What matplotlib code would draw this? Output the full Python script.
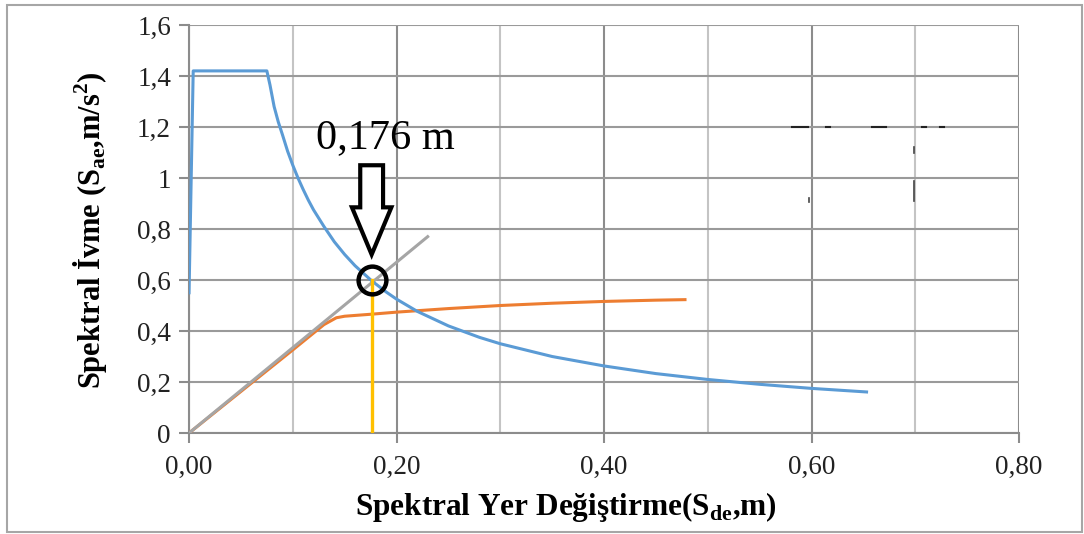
import matplotlib
matplotlib.use("Agg")
import matplotlib.pyplot as plt
from matplotlib.patches import Polygon, Rectangle
from matplotlib.ticker import MultipleLocator, FuncFormatter

plt.rcParams["font.family"] = ["Liberation Serif", "DejaVu Serif"]
plt.rcParams["mathtext.fontset"] = "custom"
plt.rcParams["mathtext.rm"] = "Liberation Serif"
plt.rcParams["mathtext.bf"] = "Liberation Serif:bold"

# demand spectrum (blue)
demand_sd = [0.0, 0.004, 0.075, 0.078, 0.082, 0.086, 0.09, 0.095, 0.10, 0.105,
             0.11, 0.115, 0.12, 0.13, 0.14, 0.15, 0.16, 0.176, 0.19, 0.20,
             0.22, 0.25, 0.28, 0.30, 0.35, 0.40, 0.45, 0.50, 0.55, 0.60, 0.653]
demand_sa = [0.55, 1.42, 1.42, 1.365, 1.28, 1.22, 1.17, 1.105, 1.05, 1.0,
             0.955, 0.913, 0.875, 0.81, 0.75, 0.70, 0.656, 0.597, 0.553, 0.525,
             0.477, 0.42, 0.375, 0.35, 0.30, 0.263, 0.233, 0.21, 0.191, 0.175,
             0.161]

# capacity curve (orange)
capacity_sd = [0.0, 0.05, 0.10, 0.13, 0.142, 0.15, 0.176, 0.20, 0.25, 0.30,
               0.35, 0.40, 0.45, 0.478]
capacity_sa = [0.0, 0.163, 0.326, 0.425, 0.452, 0.458, 0.466, 0.474, 0.488,
               0.500, 0.509, 0.516, 0.521, 0.523]

# initial stiffness line (gray)
stiff_sd = [0.0, 0.23]
stiff_sa = [0.0, 0.77]

# performance point
perf_sd = 0.176
perf_sa = 0.60
perf_label = "0,176 m"

# stray marks in the original picture
stray_h = [(0.581, 0.597, 1.2), (0.614, 0.618, 1.2), (0.658, 0.672, 1.2),
           (0.706, 0.710, 1.2), (0.724, 0.728, 1.2)]
stray_v = [(0.699, 1.10, 1.12), (0.699, 0.91, 0.99), (0.598, 0.905, 0.92)]

fig = plt.figure(figsize=(10.84, 5.34), dpi=100)
ax = fig.add_axes([0.1744, 0.1891, 0.7657, 0.7641])

ax.plot(capacity_sd, capacity_sa, color="#ED7D31", lw=2.2, zorder=3)
ax.plot(stiff_sd, stiff_sa, color="#A5A5A5", lw=2.2, zorder=4)
ax.plot(demand_sd, demand_sa, color="#5B9BD5", lw=2.2, zorder=5,
        solid_joinstyle="round")
ax.plot([perf_sd, perf_sd], [0, perf_sa], color="#FFC000", lw=2.4, zorder=6)
ax.plot([perf_sd], [perf_sa], marker="o", ms=20, mfc="none", mec="black",
        mew=3.2, zorder=7)

# hollow block arrow pointing down to the performance point
tip = perf_sa + 0.10
arrow = Polygon([
    (perf_sd - 0.011, tip + 0.35), (perf_sd + 0.011, tip + 0.35),
    (perf_sd + 0.011, tip + 0.185), (perf_sd + 0.019, tip + 0.185),
    (perf_sd, tip), (perf_sd - 0.019, tip + 0.185),
    (perf_sd - 0.011, tip + 0.185)],
    closed=True, facecolor="white", edgecolor="black", lw=3, zorder=8)
ax.add_patch(arrow)
ax.text(perf_sd + 0.013, 1.157, perf_label, fontsize=30.5, ha="center",
        va="center", zorder=9)

for x0, x1, y in stray_h:
    ax.plot([x0, x1], [y, y], color="#222222", lw=1.5, zorder=2)
for x, y0, y1 in stray_v:
    ax.plot([x, x], [y0, y1], color="#444444", lw=1.2, zorder=2)

ax.set_xlim(0, 0.8)
ax.set_ylim(0, 1.6)
ax.xaxis.set_major_locator(MultipleLocator(0.2))
ax.xaxis.set_minor_locator(MultipleLocator(0.1))
ax.yaxis.set_major_locator(MultipleLocator(0.2))

ax.xaxis.set_major_formatter(FuncFormatter(lambda v, p: f"{v:.2f}".replace(".", ",")))


def ylab(v, p):
    s = f"{v:.1f}"
    if s.endswith(".0"):
        return s[:-2]
    return s.replace(".", ",")


ax.yaxis.set_major_formatter(FuncFormatter(ylab))

ax.grid(True, which="major", axis="x", color="#8c8c8c", lw=1.5)
ax.grid(True, which="minor", axis="x", color="#c4c4c4", lw=1.5)
ax.grid(True, which="major", axis="y", color="#9a9a9a", lw=1.5)
ax.set_axisbelow(True)

for side in ["top", "right"]:
    ax.spines[side].set_visible(False)
for side in ["left", "bottom"]:
    ax.spines[side].set_color("#8c8c8c")
    ax.spines[side].set_linewidth(1.5)

ax.tick_params(axis="both", which="major", length=7, width=1.5,
               color="#8c8c8c", labelsize=19.5, labelcolor="#222222")
ax.tick_params(axis="x", which="minor", length=0)
ax.tick_params(axis="x", pad=9)
ax.tick_params(axis="y", pad=6)

ax.set_xlabel(r"Spektral Yer Değiştirme(S$_{\mathbf{de}}$,m)", fontsize=22.5,
              fontweight="bold")
ax.set_ylabel(r"Spektral İvme (S$_{\mathbf{ae}}$,m/s$^{\mathbf{2}}$)", fontsize=22,
              fontweight="bold")
ax.xaxis.set_label_coords(0.454, -0.14)
ax.yaxis.set_label_coords(-0.097, 0.497)

fig.patches.append(Rectangle((7 / 1084, 2 / 534), 1075 / 1084, 527 / 534,
                             transform=fig.transFigure, fill=False,
                             edgecolor="#a6a6a6", lw=1.5))

fig.savefig("out.png", dpi=100)
